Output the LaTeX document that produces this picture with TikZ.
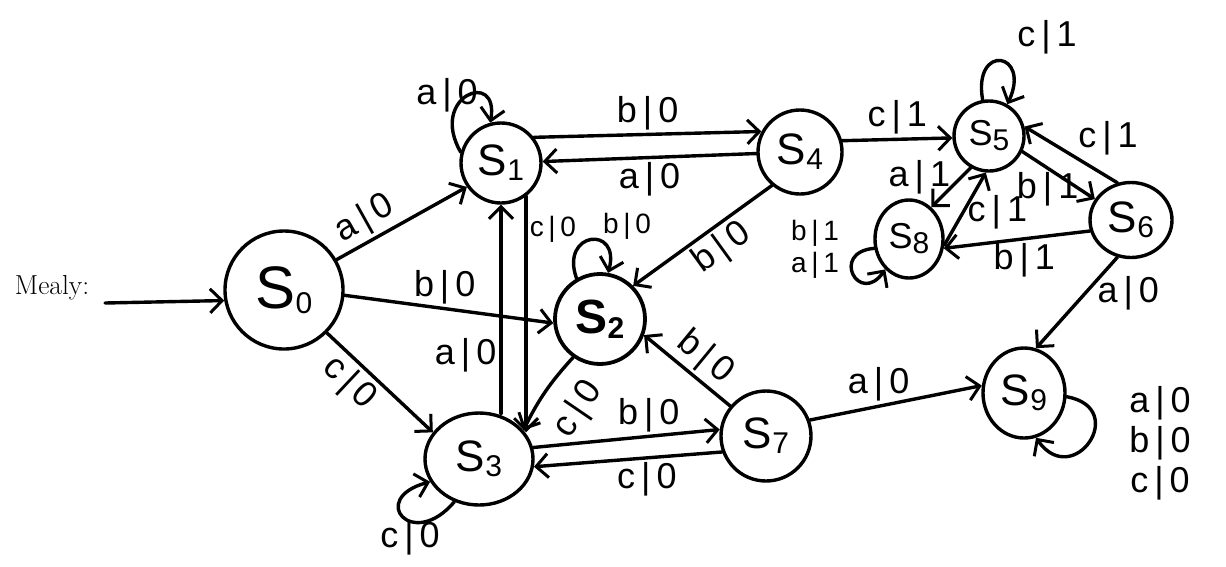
\documentclass[tikz,border=0pt]{standalone}
\usepackage{fontspec}
\newfontfamily\hand{Liberation Sans}
\usetikzlibrary{arrows.meta,shapes.geometric,calc}
\newcommand\stlab[2][44]{{\fontsize{#1}{#1}\selectfont S}\raisebox{-0.5em}{\fontsize{30}{30}\selectfont #2}}
\begin{document}
\begin{tikzpicture}[x=1pt,y=1pt,
  state/.style={draw, circle, line width=3.4pt, inner sep=0pt, font=\hand},
  ostate/.style={draw, ellipse, line width=3.4pt, inner sep=0pt, font=\hand},
  edge/.style={line width=3.4pt, line cap=round, -{Straight Barb[length=12pt,width=24pt,line width=3pt]}},
  lbl/.style={font=\hand\fontsize{36}{40}\selectfont, inner sep=3pt, align=center},
  slbl/.style={font=\hand\fontsize{28}{32}\selectfont, inner sep=2pt, align=center},
]
\useasboundingbox (0,0) rectangle (1226,-566);

\node[font=\fontsize{27.5}{30}\selectfont] (mealy) at (52,-288) {Mealy:};
\coordinate (init) at (105,-303);

\node[state, minimum size=118pt] (S0) at (284,-290) {\stlab[60]{0}};
\node[state, minimum size=80pt] (S1) at (501,-163) {\stlab{1}};
\node[state, minimum size=90pt, line width=3.8pt, font=\hand\bfseries] (S2) at (600,-319) {\stlab[48]{2}};
\node[ostate, minimum width=108pt, minimum height=92pt] (S3) at (479,-459) {\stlab{3}};
\node[state, minimum size=84pt] (S4) at (800,-152) {\stlab{4}};
\node[state, minimum size=70pt] (S5) at (989,-136) {\stlab[36]{5}};
\node[ostate, minimum width=82pt, minimum height=75pt] (S6) at (1131,-220) {\stlab{6}};
\node[state, minimum size=90pt] (S7) at (766,-436) {\stlab{7}};
\node[ostate, minimum width=68pt, minimum height=78pt] (S8) at (909,-239) {\stlab[36]{8}};
\node[ostate, minimum width=82pt, minimum height=90pt] (S9) at (1024,-393) {\stlab{9}};

% initial
\draw[edge] (init) -- (S0.190);

% from S0
\draw[edge] (S0.30) -- (S1.215) node[lbl, pos=0.3, above, sloped] {a\,|\,0};
\draw[edge] (S0.-5) -- (S2.185) node[lbl, pos=0.48, above] {b\,|\,0};
\draw[edge] (S0.-45) -- (S3.150) node[lbl, pos=0.35, below, sloped] {c\,|\,0};

% S1
\draw[edge] (S1.165) .. controls +(120:65) and +(80:55) .. (S1.105);
\node[lbl] (l1) at (447,-95) {a\,|\,0};
\draw[edge] (S1.38) -- (S4.152) node[lbl, midway, above] {b\,|\,0};
\draw[edge] (S4.182) -- (S1.2) node[lbl, midway, below] {a\,|\,0};
\draw[edge] (S1.south |- S3.70) -- (S1.south) node[lbl, pos=0.28, left] {a\,|\,0};
\draw[edge] (S1.-53) -- (S1.-53 |- S3.30) node[slbl, pos=0.14, right] {c\,|\,0};

% S2
\draw[edge] (S2.120) .. controls +(110:50) and +(75:50) .. (S2.80);
\node[slbl] (l2) at (627,-226) {b\,|\,0};
\draw[edge] (S2.235) to[bend right=8] (S3.33);
\path (S2.235) -- (S3.33) node[lbl, pos=0.45, below=14pt, sloped] {c\,|\,0};

% S4
\draw[edge] (S4.230) -- (S2.45) node[lbl, pos=0.45, below, sloped] {b\,|\,0};
\draw[edge] (S4.15) -- (S5.183) node[lbl, midway, above] {c\,|\,1};

% S3 / S7
\draw[edge] (S3.12) -- (S7.172) node[lbl, pos=0.62, above] {b\,|\,0};
\draw[edge] (S7.200) -- (S3.-8) node[lbl, pos=0.4, below] {c\,|\,0};
\draw[edge] (S3.240) .. controls +(230:65) and +(195:65) .. (S3.205);
\node[lbl] (l3) at (410,-538) {c\,|\,0};
\draw[edge] (S7.140) -- (S2.-20) node[lbl, pos=0.45, above, sloped] {b\,|\,0};
\draw[edge] (S7.20) -- (S9.170) node[lbl, pos=0.4, above] {a\,|\,0};

% S5 / S6 / S8
\draw[edge] (S5.100) .. controls +(100:58) and +(65:58) .. (S5.60);
\node[lbl] (l5) at (1047,-37) {c\,|\,1};
\draw[edge] (S6.110) -- (S5.15) node[lbl, pos=0.45, above right, inner sep=1pt] {c\,|\,1};
\draw[edge] (S5.-25) -- (S6.150) node[lbl, pos=0.35, below] {b\,|\,1};
\draw[edge] (S5.-120) -- (S8.55) node[lbl, pos=0.25, left=6pt] {a\,|\,1};
\draw[edge] (S8.-10) -- (S5.-95) node[lbl, pos=0.45, right] {c\,|\,1};
\draw[edge] (S6.195) -- (S8.-15) node[lbl, pos=0.45, below] {b\,|\,1};
\draw[edge] (S8.195) .. controls +(185:45) and +(235:45) .. (S8.232);
\node[slbl] (l8) at (815,-249) {b\,|\,1\\a\,|\,1};
\draw[edge] (S6.250) -- (S9.75) node[lbl, pos=0.4, right=8pt] {a\,|\,0};

% S9
\draw[edge] (S9.-5) .. controls +(-10:65) and +(-55:65) .. (S9.-75);
\node[lbl] (l9) at (1160,-443) {a\,|\,0\\b\,|\,0\\c\,|\,0};
\end{tikzpicture}
\end{document}
